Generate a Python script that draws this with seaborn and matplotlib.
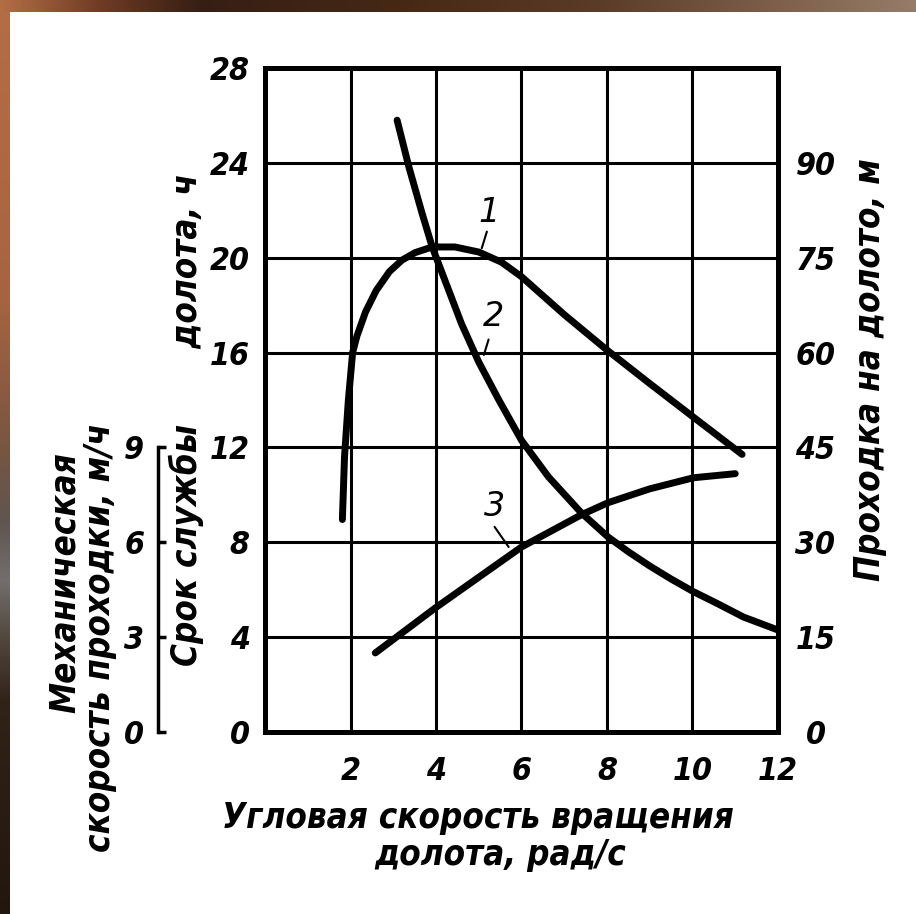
import numpy as np
import pandas as pd
import matplotlib
matplotlib.use("Agg")
import matplotlib.pyplot as plt
import seaborn as sns

# Curve 1: footage per bit, m (right scale)
speed_1 = [1.81, 1.86, 1.95, 2.05, 2.15, 2.35, 2.6, 2.91, 3.2, 3.51, 3.91, 4.44, 5.0, 5.53, 6.0, 6.5, 7.0, 8.0, 9.0, 10.0, 11.16]
footage_m = [33.6, 43.5, 52.5, 60.0, 62.6, 66.4, 69.8, 72.8, 74.6, 75.8, 76.7, 76.7, 75.9, 74.3, 72.0, 69.0, 66.0, 60.4, 55.1, 49.9, 43.9]

# Curve 2: bit life, h (left scale)
speed_2 = [3.09, 3.37, 3.67, 3.91, 4.14, 4.6, 5.0, 5.47, 6.0, 6.63, 7.4, 8.02, 8.5, 9.0, 9.5, 10.02, 10.6, 11.19, 12.0]
life_h = [25.8, 23.8, 21.9, 20.46, 19.37, 17.2, 15.6, 14.0, 12.3, 10.76, 9.24, 8.23, 7.6, 7.0, 6.45, 5.92, 5.4, 4.85, 4.3]

# Curve 3: mechanical rate of penetration, m/h (outer left scale)
speed_3 = [2.58, 3.98, 6.0, 7.4, 8.02, 9.0, 10.02, 11.0]
rate_mh = [2.5, 3.92, 5.85, 6.87, 7.25, 7.69, 8.04, 8.17]

x_ticks = [2, 4, 6, 8, 10, 12]
life_ticks = [0, 4, 8, 12, 16, 20, 24, 28]
footage_ticks = [0, 15, 30, 45, 60, 75, 90]
rate_ticks = [0, 3, 6, 9]

sns.set_theme(style="white")
plt.rcParams["font.family"] = ["DejaVu Sans"]

FONT = dict(style="italic", weight="bold", fontstretch="condensed")
INK = "black"
TICK_SIZE = 23

fig = plt.figure(figsize=(9.16, 9.14), dpi=100)

# slide-style brown frame along the left and top edges
bg = fig.add_axes([0, 0, 1, 1], zorder=-10)
bg.axis("off")
ys = np.array([0, 300, 450, 520, 580, 640, 700, 914])
left_cols = np.array([[180, 110, 70], [165, 100, 65], [120, 85, 65], [95, 85, 80],
                      [115, 110, 110], [80, 70, 60], [50, 35, 25], [35, 22, 12]]) / 255
yy = np.arange(914)
strip_l = np.stack([np.interp(yy, ys, left_cols[:, c]) for c in range(3)], axis=1)[:, None, :]
bg.imshow(strip_l, extent=(0, 10, 914, 0), aspect="auto")
xs = np.array([0, 100, 200, 400, 600, 800, 916])
top_cols = np.array([[180, 110, 70], [110, 60, 35], [55, 30, 20], [70, 40, 20],
                     [90, 60, 40], [130, 100, 80], [150, 125, 105]]) / 255
xx = np.arange(916)
strip_t = np.stack([np.interp(xx, xs, top_cols[:, c]) for c in range(3)], axis=1)[None, :, :]
bg.imshow(strip_t, extent=(0, 916, 12, 0), aspect="auto")
bg.set_xlim(0, 916)
bg.set_ylim(914, 0)

# main grid axes: bit life (left)
ax = fig.add_axes([265 / 916, 1 - 732 / 914, 513 / 916, 664 / 914])
ax.set_facecolor("none")
ax.set_xlim(0, 12)
ax.set_ylim(0, 28)
ax.set_xticks(x_ticks)
ax.set_yticks(life_ticks)
ax.grid(True, color=INK, linewidth=2.2)
for s in ax.spines.values():
    s.set_color(INK)
    s.set_linewidth(3.6)
ax.tick_params(axis="both", length=0, labelsize=TICK_SIZE, colors=INK)
ax.tick_params(axis="x", pad=17)
ax.tick_params(axis="y", pad=11)
for lab in ax.get_xticklabels() + ax.get_yticklabels():
    lab.set(**FONT)

df2 = pd.DataFrame({"speed": speed_2, "value": life_h})
sns.lineplot(data=df2, x="speed", y="value", ax=ax, color=INK, linewidth=5,
             sort=False, estimator=None, solid_capstyle="round")
ax.set_xlabel("")
ax.set_ylabel("")

# right scale: footage per bit
axr = ax.twinx()
axr.set_ylim(0, 105)
axr.set_yticks(footage_ticks)
axr.tick_params(axis="y", length=0, labelsize=TICK_SIZE, pad=27, colors=INK)
for lab in axr.get_yticklabels():
    lab.set(**FONT)
    lab.set_horizontalalignment("center")
for s in axr.spines.values():
    s.set_visible(False)
df1 = pd.DataFrame({"speed": speed_1, "value": footage_m})
sns.lineplot(data=df1, x="speed", y="value", ax=axr, color=INK, linewidth=5,
             sort=False, estimator=None, solid_capstyle="round")
axr.set_ylabel("")
axr.grid(False)

# outer left scale: mechanical rate of penetration
axm = ax.twinx()
axm.set_ylim(0, 21)
axm.yaxis.set_ticks_position("left")
axm.yaxis.set_label_position("left")
for name, s in axm.spines.items():
    s.set_visible(name == "left")
axm.spines["left"].set_position(("axes", (158 - 265) / 513))
axm.spines["left"].set_bounds(0, 9)
axm.spines["left"].set_linewidth(2.5)
axm.spines["left"].set_color(INK)
axm.set_yticks(rate_ticks)
axm.tick_params(axis="y", direction="in", length=6, width=2.5, labelsize=TICK_SIZE,
                pad=10, colors=INK, left=True, labelleft=True, right=False, labelright=False)
for lab in axm.get_yticklabels():
    lab.set(**FONT)
df3 = pd.DataFrame({"speed": speed_3, "value": rate_mh})
sns.lineplot(data=df3, x="speed", y="value", ax=axm, color=INK, linewidth=5,
             sort=False, estimator=None, solid_capstyle="round")
axm.set_ylabel("")
axm.grid(False)

# curve numbers with short leaders
num_style = dict(fontsize=24, style="italic", color=INK, ha="center", va="center")
ax.text(5.23, 21.9, "1", **num_style)
ax.plot([5.19, 5.07], [21.1, 20.4], color=INK, linewidth=1.5)
ax.text(5.35, 17.5, "2", **num_style)
ax.plot([5.23, 5.12], [16.55, 15.9], color=INK, linewidth=1.5)
ax.text(5.37, 9.5, "3", **num_style)
ax.plot([5.37, 5.70], [8.65, 7.8], color=INK, linewidth=1.5)

# axis titles
title_style = dict(fontsize=25, color=INK, ha="center", va="center", **FONT)
fig.text(65 / 916, 1 - 583 / 914, "Механическая", rotation=90, **title_style)
fig.text(100 / 916, 1 - 637 / 914, "скорость проходки, м/ч", rotation=90, **title_style)
fig.text(186 / 916, 1 - 420 / 914, "Срок службы       долота, ч", rotation=90, **title_style)
fig.text(870 / 916, 1 - 370 / 914, "Проходка на долото, м", rotation=90, **title_style)
fig.text(478 / 916, 1 - 818 / 914, "Угловая скорость вращения", **title_style)
fig.text(500 / 916, 1 - 855 / 914, "долота, рад/с", **title_style)

fig.savefig("out.png", dpi=100, facecolor="white")
